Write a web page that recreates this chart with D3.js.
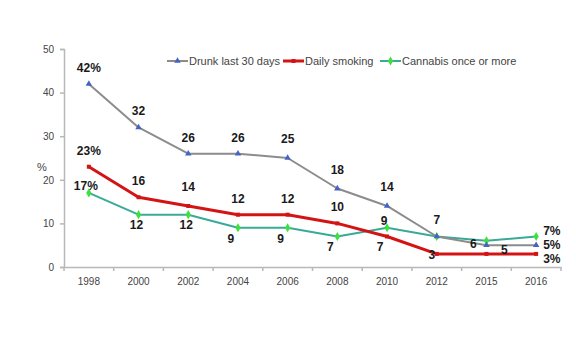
<!DOCTYPE html>
<html><head><meta charset="utf-8">
<script src="https://cdn.jsdelivr.net/npm/d3@7/dist/d3.min.js"></script>
<style>body{margin:0;background:#fff;}svg{display:block;font-family:"Liberation Sans",Arial,sans-serif;}</style>
</head><body>
<svg id="c" width="576" height="360"></svg>
<script>
const years = ["1998","2000","2002","2004","2006","2008","2010","2012","2015","2016"];
const drunk = [42,32,26,26,25,18,14,7,5,5];
const smoking = [23,16,14,12,12,10,7,3,3,3];
const cannabis = [17,12,12,9,9,7,9,7,6,7];
const drunkLabels = ["42%","32","26","26","25","18","14","7","5","5%"];
const smokingLabels = ["23%","16","14","12","12","10","7","3","","3%"];
const cannabisLabels = ["17%","12","12","9","9","7","9","","6","7%"];
const yTicks = [0,10,20,30,40,50];
const seriesNames = ["Drunk last 30 days","Daily smoking","Cannabis once or more"];

// label placement codes (layout, code-side)
const drunkPos = ["a","a","a","a","ah","ah","ah","a","br","r"];
const smokingPos = ["a","a","ah","a","a","a","b","l","","rd"];
const cannabisPos = ["al","b0","b0","b","b","b","al","","l6","ru"];
const off = {
  a:[0,-12,"middle"], ah:[0,-15,"middle"], al:[-3,-3,"middle"],
  b:[-7,15,"middle"], b0:[-2,14,"middle"],
  l:[-5,5,"middle"], l6:[-13,7,"middle"], br:[18,9,"middle"],
  ru:[7,-1,"start"], r:[7,4,"start"], rd:[7,9,"start"]
};

const svg = d3.select("#c");
const x = d3.scaleBand().domain(years).range([64,561]);
const y = d3.scaleLinear().domain([0,50]).range([267,49]);
const cx = d => x(d) + x.bandwidth()/2;

// axes
const yAxis = svg.append("g").attr("transform","translate(64,0)")
  .call(d3.axisLeft(y).tickValues(yTicks).tickSize(4).tickPadding(6));
const xAxis = svg.append("g").attr("transform","translate(0,267)")
  .call(d3.axisBottom(x).tickSize(0).tickPadding(11));
[yAxis,xAxis].forEach(g=>{
  g.select(".domain").attr("stroke","#b8b8b8").attr("stroke-width",1.5);
  g.selectAll(".tick line").attr("stroke","#b8b8b8").attr("stroke-width",1.5);
  g.selectAll("text").attr("fill","#444").attr("font-size",10);
});
// x boundary ticks
const bounds = years.map(d=>x(d)).concat([x.range()[1]]);
svg.append("g").selectAll("line").data(bounds).join("line")
  .attr("x1",d=>d).attr("x2",d=>d).attr("y1",267).attr("y2",271)
  .attr("stroke","#b8b8b8").attr("stroke-width",1.5);

svg.append("text").attr("x",42).attr("y",171).attr("text-anchor","middle")
  .attr("font-size",11).attr("fill","#444").text("%");

const series = [
  {name:seriesNames[0], vals:drunk, labels:drunkLabels, pos:drunkPos, line:"#8c8c8c", mark:"#4463c4", w:2, sym:d3.symbolTriangle, size:18},
  {name:seriesNames[1], vals:smoking, labels:smokingLabels, pos:smokingPos, line:"#d41414", mark:"#d41414", w:3, sym:d3.symbolSquare, size:16},
  {name:seriesNames[2], vals:cannabis, labels:cannabisLabels, pos:cannabisPos, line:"#3aaa98", mark:"#3de03d", w:2, sym:d3.symbolDiamond, size:24}
];
const line = d3.line().x((d,i)=>cx(years[i])).y(d=>y(d));
[series[2],series[1],series[0]].forEach(s=>{
  svg.append("path").datum(s.vals).attr("d",line).attr("fill","none")
    .attr("stroke",s.line).attr("stroke-width",s.w).attr("stroke-linejoin","round");
  svg.append("g").selectAll("path").data(s.vals).join("path")
    .attr("transform",(d,i)=>`translate(${cx(years[i])},${y(d)})`)
    .attr("d",d3.symbol().type(s.sym).size(s.size)).attr("fill",s.mark);
});
// labels
series.forEach(s=>{
  const items = s.vals.map((v,i)=>({v, yr:years[i], t:s.labels[i], p:s.pos[i]})).filter(o=>o.t!=="");
  svg.append("g").selectAll("text").data(items).join("text")
    .attr("x",o=>cx(o.yr)+off[o.p][0])
    .attr("y",o=>y(o.v)+off[o.p][1])
    .attr("text-anchor",o=>off[o.p][2])
    .attr("font-size",12).attr("font-weight","bold").attr("fill","#1a1a1a")
    .text(o=>o.t);
});
// legend
const legX = [167,283,380];
series.forEach((s,i)=>{
  const g = svg.append("g").attr("transform",`translate(${legX[i]},61)`);
  g.append("line").attr("x1",0).attr("x2",21).attr("stroke",s.line).attr("stroke-width",s.w);
  g.append("path").attr("transform","translate(10.5,0)").attr("d",d3.symbol().type(s.sym).size(s.size)).attr("fill",s.mark);
  g.append("text").attr("x",22).attr("y",4).attr("font-size",11).attr("fill","#444").text(s.name);
});
</script>
</body></html>
